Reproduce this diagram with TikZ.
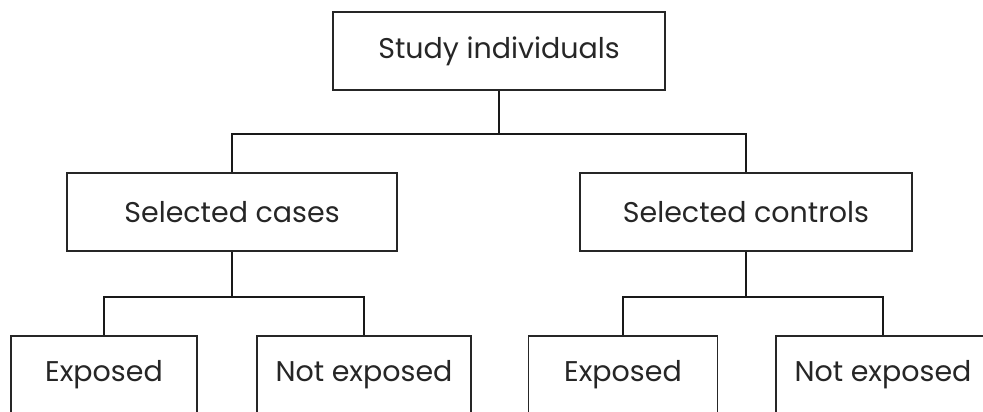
\documentclass[tikz,border=0pt]{standalone}
\usepackage{fontspec}
\usetikzlibrary{calc}
\setmainfont{Poppins}
\begin{document}
\begin{tikzpicture}[x=1pt,y=-1pt,
  box/.style={draw=black!85, line width=1.8pt, inner sep=0pt, text=black!85,
    minimum height=78pt, font=\fontsize{28.5}{33}\selectfont},
  link/.style={draw=black!90, line width=1.3pt}]
\useasboundingbox (0,0) rectangle (983,412);
% top level
\node[box, minimum width=332pt] (top) at (499,51) {Study individuals};
% second level
\node[box, minimum width=330pt] (cases) at (232,212) {Selected cases};
\node[box, minimum width=332pt] (ctrl) at (746,212) {Selected controls};
% third level
\node[box, minimum width=186pt] (ce) at (104,375) {Exposed};
\node[box, minimum width=214pt] (cn) at (364,375) {Not exposed};
\node[box, minimum width=189pt] (te) at (623,375) {Exposed};
\node[box, minimum width=214pt] (tn) at (883,375) {Not exposed};
% junctions
\coordinate (j0) at ($(top.south)+(0,43)$);
\coordinate (j1) at ($(cases.south)+(0,45)$);
\coordinate (j2) at ($(ctrl.south)+(0,45)$);
% connectors
\draw[link] (top.south) -- (j0);
\draw[link] (j0) -| (cases.north);
\draw[link] (j0) -| (ctrl.north);
\draw[link] (cases.south) -- (j1);
\draw[link] (j1) -| (ce.north);
\draw[link] (j1) -| (cn.north);
\draw[link] (ctrl.south) -- (j2);
\draw[link] (j2) -| (te.north);
\draw[link] (j2) -| (tn.north);
\end{tikzpicture}
\end{document}
